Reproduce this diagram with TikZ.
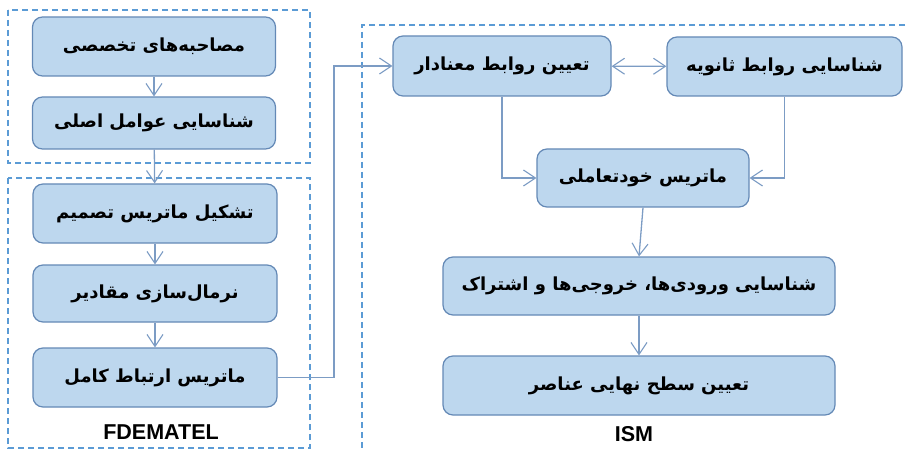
\documentclass[tikz,border=0pt]{standalone}
\usepackage{fontspec}
\setmainfont{Liberation Sans}
\newfontfamily\fa[Script=Arabic]{DejaVu Sans}
\TeXXeTstate=1
\usetikzlibrary{arrows.meta}
\definecolor{boxfill}{HTML}{BDD7EE}
\definecolor{boxline}{HTML}{6489B6}
\definecolor{conn}{HTML}{7C9CC4}
\definecolor{dashc}{HTML}{5B9BD5}
\tikzset{
  stepbox/.style={draw=boxline, fill=boxfill, line width=1.2pt, rounded corners=10pt,
    inner sep=0pt, align=center, font=\fa\bfseries\fontsize{18}{20}\selectfont},
  conline/.style={draw=conn, line width=1.3pt, -{Straight Barb[length=12pt,width=16pt,line width=1.1pt]}},
  grp/.style={draw=dashc, line width=1.1pt, dash pattern=on 6pt off 4pt},
  lbl/.style={font=\bfseries\fontsize{21.5}{24}\selectfont, inner sep=0pt, anchor=base}
}
\begin{document}
\begin{tikzpicture}[x=1pt,y=-1pt]
\useasboundingbox (0,0) rectangle (907,449);
% group frames
\draw[grp] (8,10) rectangle (310,163);
\draw[grp] (8,178) rectangle (310,448);
\draw[grp] (915,25) -- (362,25) -- (362,460);
% left column
\node[stepbox, minimum width=243pt, minimum height=59pt] (n1) at (154,46.5) {\beginR مصاحبه‌های تخصصی\endR};
\node[stepbox, minimum width=243pt, minimum height=52pt] (n2) at (154,123) {\beginR شناسایی عوامل اصلی\endR};
\node[stepbox, minimum width=244pt, minimum height=59pt] (n3) at (155,213.5) {\beginR تشکیل ماتریس تصمیم\endR};
\node[stepbox, minimum width=244pt, minimum height=57pt] (n4) at (155,293.5) {\beginR نرمال‌سازی مقادیر\endR};
\node[stepbox, minimum width=244pt, minimum height=59pt] (n5) at (155,377.5) {\beginR ماتریس ارتباط کامل\endR};
% right part
\node[stepbox, minimum width=218pt, minimum height=60pt] (A) at (502,66) {\beginR تعیین روابط معنادار\endR};
\node[stepbox, minimum width=235pt, minimum height=59pt] (B) at (784.5,66.5) {\beginR شناسایی روابط ثانویه\endR};
\node[stepbox, minimum width=212pt, minimum height=58pt] (C) at (643,178) {\beginR ماتریس خودتعاملی\endR};
\node[stepbox, minimum width=392pt, minimum height=58pt] (D) at (639,286) {\beginR شناسایی ورودی‌ها، خروجی‌ها و اشتراک\endR};
\node[stepbox, minimum width=392pt, minimum height=59pt] (E) at (639,385.5) {\beginR تعیین سطح نهایی عناصر\endR};
% labels
\node[lbl] (fl) at (161,439) {FDEMATEL};
\node[lbl] (il) at (634,441) {ISM};
% connectors
\draw[conline] (n1) -- (n2);
\draw[conline] (n2) -- (n3);
\draw[conline] (n3) -- (n4);
\draw[conline] (n4) -- (n5);
\coordinate (bend) at (334,377.5);
\draw[conline] (n5.east) -- (bend) |- (A.west);
\draw[conline, {Straight Barb[length=12pt,width=16pt,line width=1.1pt]}-{Straight Barb[length=12pt,width=16pt,line width=1.1pt]}] (A) -- (B);
\draw[conline] (A.south) |- (C.west);
\draw[conline] (B.south) |- (C.east);
\draw[conline] (C.south) -- (D.north);
\draw[conline] (D) -- (E);
\end{tikzpicture}
\end{document}
